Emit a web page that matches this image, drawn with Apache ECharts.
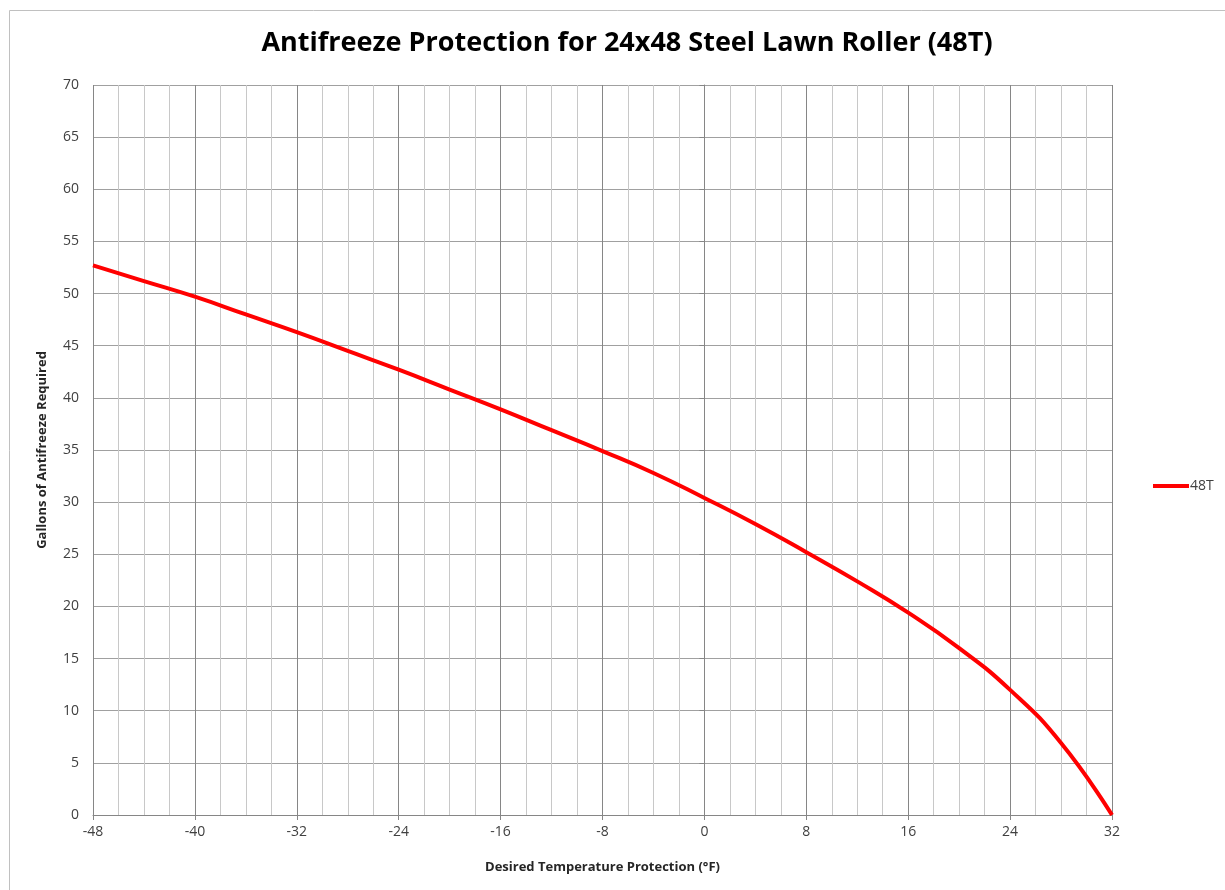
<!DOCTYPE html>
<html>
<head>
<meta charset="utf-8">
<script src="https://cdn.jsdelivr.net/npm/echarts@6/dist/echarts.min.js"></script>
<style>
  html, body { margin: 0; padding: 0; background: #fff; }
  #main { width: 1225px; height: 890px; }
</style>
</head>
<body>
<div id="main"></div>
<script>
(function(){
    // temperature (°F) vs gallons
    var temps   = [-48, -44, -40, -36, -32, -28, -24, -20, -16, -12, -8, -4, 0, 4, 8, 12, 16, 20, 24, 28, 32];
    var gallons = [52.7, 51.2, 49.7, 48.0, 46.3, 44.5, 42.7, 40.8, 38.9, 36.9, 34.9, 32.8, 30.4, 27.9, 25.2, 22.4, 19.4, 16.0, 12.0, 6.9, 0];
    var seriesName = '48T';

    var data = temps.map(function (t, i) { return [t, gallons[i]]; });

    var chart = echarts.init(document.getElementById('main'));
    var font = '"Open Sans", "Liberation Sans", sans-serif';

    var option = {
        backgroundColor: '#fff',
        animation: false,
        title: {
            text: 'Antifreeze Protection for 24x48 Steel Lawn Roller (48T)',
            left: 622,
            textAlign: 'center',
            top: 25,
            textStyle: {
                fontFamily: font,
                fontSize: 27,
                fontWeight: 'bold',
                color: '#000'
            }
        },
        grid: {
            left: 93,
            right: 113,
            top: 85,
            bottom: 75
        },
        legend: {
            left: 1148,
            top: 474,
            data: [seriesName],
            icon: 'rect',
            itemWidth: 36,
            itemHeight: 4,
            itemGap: 2,
            textStyle: {
                fontFamily: font,
                fontSize: 14,
                color: '#404040',
                padding: [0, 0, 0, -4]
            }
        },
        xAxis: {
            type: 'value',
            min: -48,
            max: 32,
            interval: 8,
            name: 'Desired Temperature Protection (°F)',
            nameLocation: 'middle',
            nameGap: 46,
            nameTextStyle: {
                fontFamily: font,
                fontSize: 13,
                fontWeight: 'bold',
                color: '#262626'
            },
            axisLine: { lineStyle: { color: '#868686', width: 1 } },
            axisTick: { show: true, length: 5, lineStyle: { color: '#868686' } },
            axisLabel: {
                fontFamily: font,
                fontSize: 14,
                color: '#404040',
                margin: 10
            },
            splitLine: { show: true, lineStyle: { color: '#868686', width: 1 } },
            minorTick: { show: false, splitNumber: 4 },
            minorSplitLine: { show: true, lineStyle: { color: '#c8c8c8', width: 1 } }
        },
        yAxis: {
            type: 'value',
            min: 0,
            max: 70,
            interval: 5,
            name: 'Gallons of Antifreeze Required',
            nameLocation: 'middle',
            nameGap: 44,
            nameTextStyle: {
                fontFamily: font,
                fontSize: 13,
                fontWeight: 'bold',
                color: '#262626'
            },
            axisLine: { show: true, lineStyle: { color: '#868686', width: 1 } },
            axisTick: { show: true, length: 5, lineStyle: { color: '#868686' } },
            axisLabel: {
                fontFamily: font,
                fontSize: 14,
                color: '#404040',
                margin: 14
            },
            splitLine: { show: true, lineStyle: { color: '#a0a0a0', width: 1 } }
        },
        graphic: [
            {
                type: 'polyline',
                shape: { points: [[9.5, 890], [9.5, 10.5], [1225, 10.5]] },
                style: { stroke: '#c0c0c0', fill: null, lineWidth: 1 },
                silent: true
            }
        ],
        series: [
            {
                name: seriesName,
                type: 'line',
                data: data,
                smooth: 0.5,
                showSymbol: false,
                symbol: 'none',
                lineStyle: { color: '#ff0000', width: 4 },
                itemStyle: { color: '#ff0000' }
            }
        ]
    };

    chart.setOption(option);
})();
</script>
</body>
</html>
